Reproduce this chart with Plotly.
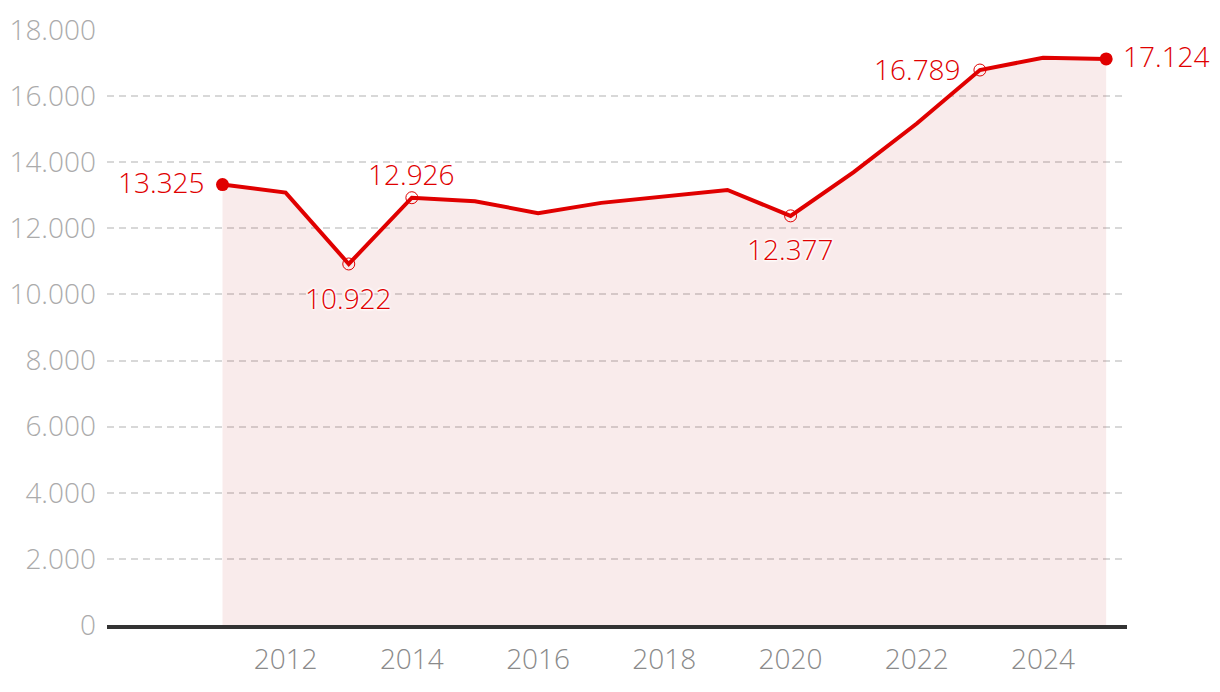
import plotly.graph_objects as go

years = list(range(2011, 2026))
values = [13325, 13080, 10922, 12926, 12820, 12460, 12770, 12960, 13160, 12377,
          13700, 15170, 16789, 17160, 17124]

label_years = [2011, 2013, 2014, 2020, 2023, 2025]
label_values = [13325, 10922, 12926, 12377, 16789, 17124]
label_filled = [True, False, False, False, False, True]
label_anchor = ["right", "center", "center", "center", "right", "left"]
label_xshift = [-16, 0, 0, 0, -17, 15]
label_yshift = [3, -34, 24, -33, 1, 3]

x_ticks = [2012, 2014, 2016, 2018, 2020, 2022, 2024]
y_ticks = [0, 2000, 4000, 6000, 8000, 10000, 12000, 14000, 16000, 18000]

RED = "#e00000"
FONT = "Open Sans"
FS = 28

fig = go.Figure()
fig.add_trace(go.Scatter(
    x=years, y=values, mode="lines", fill="tozeroy",
    fillcolor="rgba(190,30,30,0.09)", line=dict(color=RED, width=4),
    hoverinfo="skip", showlegend=False,
))
# filled end markers
fig.add_trace(go.Scatter(
    x=[y for y, f in zip(label_years, label_filled) if f],
    y=[v for v, f in zip(label_values, label_filled) if f],
    mode="markers", opacity=1,
    marker=dict(size=13, color=RED, opacity=1, line=dict(width=0)),
    showlegend=False,
))
# hollow markers
fig.add_trace(go.Scatter(
    x=[y for y, f in zip(label_years, label_filled) if not f],
    y=[v for v, f in zip(label_values, label_filled) if not f],
    mode="markers",
    marker=dict(size=12, symbol="circle-open", color=RED, line=dict(width=1)),
    showlegend=False,
))

for yr, v, a, xs, ys in zip(label_years, label_values, label_anchor, label_xshift, label_yshift):
    fig.add_annotation(
        x=yr, y=v, text=f"{v:,}".replace(",", "."), showarrow=False,
        xanchor=a, yanchor="middle", xshift=xs, yshift=ys,
        font=dict(family=FONT, size=FS, color=RED, weight=300,
                  shadow="1px 1px 2px white, -1px -1px 2px white, 1px -1px 2px white, -1px 1px 2px white"),
    )

fig.update_layout(
    width=1220, height=692,
    margin=dict(l=107, r=93, t=30, b=67),
    paper_bgcolor="white", plot_bgcolor="white",
    separators=",.",
    font=dict(family=FONT, size=FS, weight=300),
    xaxis=dict(
        range=[2009.17, 2025.33], tickvals=x_ticks, showgrid=False,
        zeroline=False, showline=True, linecolor="#333333", linewidth=4,
        tickfont=dict(family=FONT, size=FS, color="#8a8a8a", weight=300),
        ticks="outside", ticklen=6, tickcolor="rgba(0,0,0,0)", automargin=False,
    ),
    yaxis=dict(
        range=[0, 18000], tickvals=y_ticks, tickformat=",d",
        showgrid=True, gridcolor="#d8d8d8", griddash="7px,5px", gridwidth=1.5,
        zeroline=False, showline=False,
        tickfont=dict(family=FONT, size=FS, color="#ababab", weight=300),
        ticklabelstandoff=10, automargin=False,
    ),
)

fig.write_html("out.html", config={"displayModeBar": False},
               post_script="document.body.style.margin='0';document.body.style.overflow='hidden';")
